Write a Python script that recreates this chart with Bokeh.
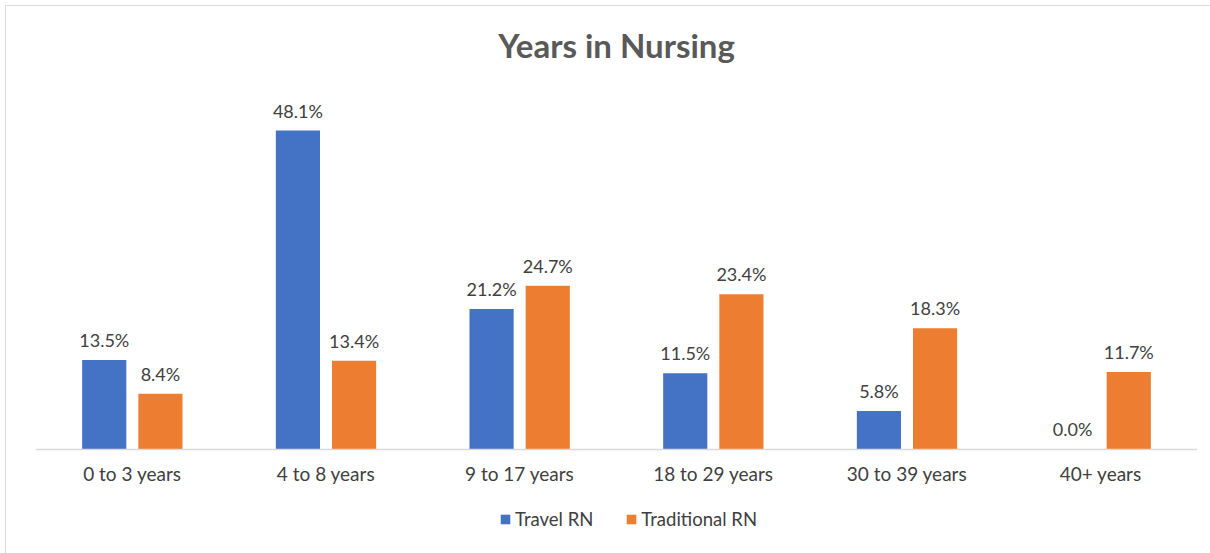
from bokeh.plotting import figure
from bokeh.models import ColumnDataSource, Range1d, FactorRange, Legend, LegendItem
from bokeh.transform import dodge
from bokeh.core.properties import value
from bokeh.embed import file_html
from bokeh.resources import INLINE

categories = ["0 to 3 years", "4 to 8 years", "9 to 17 years", "18 to 29 years", "30 to 39 years", "40+ years"]
travel_rn = [13.5, 48.1, 21.2, 11.5, 5.8, 0.0]
traditional_rn = [8.4, 13.4, 24.7, 23.4, 18.3, 11.7]

FONT = "Lato"
TXT = "#404040"

src = ColumnDataSource(dict(
    cat=categories,
    travel=travel_rn,
    trad=traditional_rn,
    travel_lbl=[f"{v:.1f}%" for v in travel_rn],
    trad_lbl=[f"{v:.1f}%" for v in traditional_rn],
))

p = figure(frame_width=1162, frame_height=473, output_backend="svg", toolbar_location=None,
           x_range=FactorRange(*categories, range_padding=0), y_range=Range1d(-15.69, 55.65),
           min_border_left=29, min_border_right=13, min_border_top=74, min_border_bottom=0,
           title="Years in Nursing")
p.styles = {"margin": "5px 0 0 5px", "border-top": "1px solid #dcdcdc",
            "border-left": "1px solid #dcdcdc"}
p.outline_line_color = None
p.xgrid.grid_line_color = None
p.ygrid.grid_line_color = None
p.yaxis.visible = False

p.title.align = "center"
p.title.text_font = FONT
p.title.text_font_style = "bold"
p.title.text_font_size = "33px"
p.title.text_color = "#595959"
p.title.standoff = 31

r1 = p.vbar(x=dodge("cat", -0.145, range=p.x_range), top="travel", width=0.228, source=src,
            fill_color="#4472C4", line_color=None)
r2 = p.vbar(x=dodge("cat", 0.145, range=p.x_range), top="trad", width=0.228, source=src,
            fill_color="#ED7D31", line_color=None)

for off, col, lbl in [(-0.145, "travel", "travel_lbl"), (0.145, "trad", "trad_lbl")]:
    p.text(x=dodge("cat", off, range=p.x_range), y=col, text=lbl, source=src,
           text_align="center", text_baseline="bottom", y_offset=-9,
           text_font=value(FONT), text_font_size="18px", text_color=TXT)

ax = p.xaxis[0]
ax.fixed_location = 0
ax.axis_line_color = "#d9d9d9"
ax.axis_line_width = 1.5
ax.major_tick_line_color = None
ax.minor_tick_line_color = None
ax.major_tick_out = 0
ax.major_tick_in = 0
ax.major_label_text_font = FONT
ax.major_label_text_font_size = "19px"
ax.major_label_text_color = TXT
ax.major_label_standoff = 13

legend = Legend(items=[LegendItem(label="Travel RN", renderers=[r1]),
                       LegendItem(label="Traditional RN", renderers=[r2])],
                orientation="horizontal", location=(464, 23),
                label_text_font=FONT, label_text_font_size="18.5px", label_text_color=TXT,
                glyph_width=12, glyph_height=12, spacing=32, label_standoff=4,
                border_line_color=None, background_fill_alpha=0, margin=0, padding=2)
p.add_layout(legend)

open("out.html", "w").write(file_html(p, INLINE))
